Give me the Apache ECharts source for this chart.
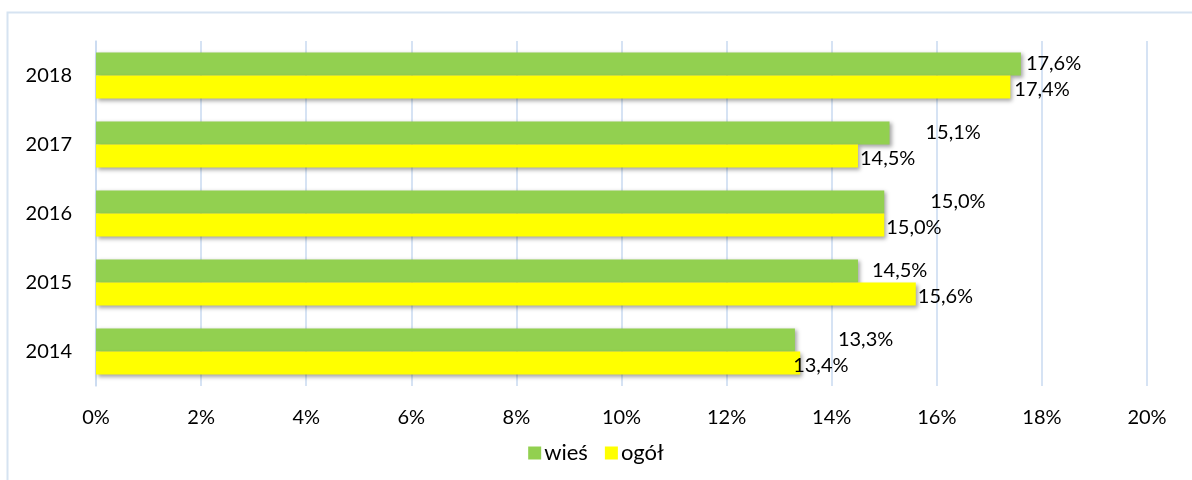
<!DOCTYPE html>
<html>
<head>
<meta charset="utf-8">
<script src="https://cdn.jsdelivr.net/npm/echarts@6/dist/echarts.min.js"></script>
<style>
  html, body { margin: 0; padding: 0; background: #fff; }
  #main { width: 1192px; height: 480px; }
</style>
</head>
<body>
<div id="main"></div>
<script>
// dane
const years = ['2014', '2015', '2016', '2017', '2018'];
const wies = [13.3, 14.5, 15.0, 15.1, 17.6];
const ogol = [13.4, 15.6, 15.0, 14.5, 17.4];
const xTicks = [0, 2, 4, 6, 8, 10, 12, 14, 16, 18, 20];

// przesuniecia etykiet (jak w oryginale)
const wiesNudge = [41, 12, 44, 34, 3];
const ogolNudge = [-9, 0, 0, 0, 2];

const fmt = v => v.toFixed(1).replace('.', ',') + '%';
const font = 'Lato';

function items(vals, nudge, dy) {
  return vals.map((v, i) => ({
    value: v,
    label: { offset: [nudge[i], dy] }
  }));
}

const barShadow = {
  shadowColor: 'rgba(0,0,0,0.35)',
  shadowBlur: 4,
  shadowOffsetX: 2,
  shadowOffsetY: 2
};

const chart = echarts.init(document.getElementById('main'));
chart.setOption({
  backgroundColor: '#fff',
  animation: false,
  textStyle: { fontFamily: font },
  graphic: [{
    type: 'rect',
    shape: { x: 7.5, y: 12.5, width: 1300, height: 600 },
    style: { fill: 'none', stroke: '#d6e3f1', lineWidth: 2 },
    silent: true
  }],
  grid: { left: 96, right: 45, top: 41, bottom: 94 },
  legend: {
    data: ['wieś', 'ogół'],
    bottom: 11,
    left: 'center',
    itemWidth: 13,
    itemHeight: 13,
    itemGap: 17,
    icon: 'rect',
    textStyle: { fontSize: 22, color: '#000', fontFamily: font, padding: [0, 0, 0, -2] }
  },
  xAxis: {
    type: 'value',
    min: xTicks[0],
    max: xTicks[xTicks.length - 1],
    interval: 2,
    axisLine: { show: false },
    axisTick: { show: false },
    splitLine: { lineStyle: { color: '#c9daf0', width: 1.5 } },
    axisLabel: {
      fontSize: 20, color: '#000', margin: 22,
      formatter: v => v + '%'
    }
  },
  yAxis: {
    type: 'category',
    data: years,
    axisLine: { show: true, lineStyle: { color: '#c9daf0', width: 1.5 } },
    axisTick: { show: false },
    axisLabel: { fontSize: 20, color: '#000', margin: 24 }
  },
  series: [
    {
      name: 'wieś',
      type: 'bar',
      data: items(wies, wiesNudge, 0),
      barGap: '0%',
      barCategoryGap: '33%',
      itemStyle: Object.assign({ color: '#92d050' }, barShadow),
      label: {
        show: true, position: 'right', distance: 2,
        fontSize: 20, color: '#000', fontFamily: font,
        formatter: p => fmt(p.value)
      }
    },
    {
      name: 'ogół',
      type: 'bar',
      data: items(ogol, ogolNudge, 2),
      barGap: '0%',
      barCategoryGap: '33%',
      itemStyle: Object.assign({ color: '#ffff00' }, barShadow),
      label: {
        show: true, position: 'right', distance: 2,
        fontSize: 20, color: '#000', fontFamily: font,
        formatter: p => fmt(p.value)
      }
    }
  ]
});
</script>
</body>
</html>
